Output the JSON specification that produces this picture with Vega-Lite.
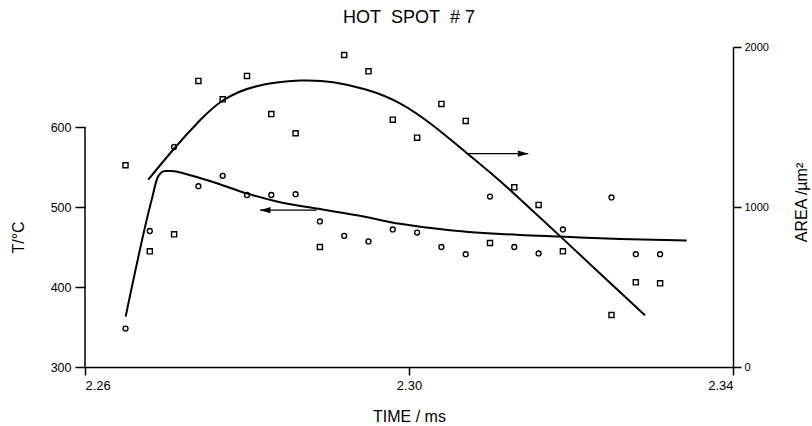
{
  "$schema": "https://vega.github.io/schema/vega-lite/v6.json",
  "width": 648,
  "height": 320,
  "autosize": {"type": "none"},
  "padding": {"left": 85, "top": 47, "right": 79, "bottom": 59},
  "background": "white",
  "title": {"text": "HOT\u00a0\u00a0SPOT\u00a0\u00a0#\u00a07", "fontSize": 18, "font": "Liberation Sans", "fontWeight": "normal", "color": "black", "baseline": "alphabetic", "offset": 0},
  "config": {
    "view": {"stroke": null},
    "axis": {"grid": false, "domainColor": "black", "tickColor": "black", "labelColor": "black", "titleColor": "black", "labelFont": "Liberation Sans", "titleFont": "Liberation Sans", "titleFontWeight": "normal", "domainWidth": 1.5, "tickWidth": 1.5}
  },
  "datasets": {
    "circles": [
      {"time": 2.265, "temp": 348}, {"time": 2.268, "temp": 470}, {"time": 2.271, "temp": 575},
      {"time": 2.274, "temp": 526}, {"time": 2.277, "temp": 539}, {"time": 2.280, "temp": 515},
      {"time": 2.283, "temp": 515}, {"time": 2.286, "temp": 516}, {"time": 2.289, "temp": 482},
      {"time": 2.292, "temp": 464}, {"time": 2.295, "temp": 457}, {"time": 2.298, "temp": 472},
      {"time": 2.301, "temp": 468}, {"time": 2.304, "temp": 450}, {"time": 2.307, "temp": 441},
      {"time": 2.310, "temp": 513}, {"time": 2.313, "temp": 450}, {"time": 2.316, "temp": 442},
      {"time": 2.319, "temp": 472}, {"time": 2.325, "temp": 512}, {"time": 2.328, "temp": 441},
      {"time": 2.331, "temp": 441}
    ],
    "squares": [
      {"time": 2.265, "area": 1261}, {"time": 2.268, "area": 723}, {"time": 2.271, "area": 829},
      {"time": 2.274, "area": 1788}, {"time": 2.277, "area": 1673}, {"time": 2.280, "area": 1819},
      {"time": 2.283, "area": 1581}, {"time": 2.286, "area": 1461}, {"time": 2.289, "area": 750},
      {"time": 2.292, "area": 1950}, {"time": 2.295, "area": 1848}, {"time": 2.298, "area": 1546},
      {"time": 2.301, "area": 1433}, {"time": 2.304, "area": 1644}, {"time": 2.307, "area": 1538},
      {"time": 2.310, "area": 775}, {"time": 2.313, "area": 1123}, {"time": 2.316, "area": 1013},
      {"time": 2.319, "area": 723}, {"time": 2.325, "area": 325}, {"time": 2.328, "area": 529},
      {"time": 2.331, "area": 523}
    ],
    "tcurve": [
      {"time": 2.26502, "temp": 363}, {"time": 2.26823, "temp": 509}, {"time": 2.26901, "temp": 538},
      {"time": 2.26988, "temp": 545}, {"time": 2.27070, "temp": 545}, {"time": 2.27256, "temp": 541},
      {"time": 2.27617, "temp": 530}, {"time": 2.27996, "temp": 517}, {"time": 2.28407, "temp": 506},
      {"time": 2.28861, "temp": 498}, {"time": 2.29395, "temp": 489}, {"time": 2.29889, "temp": 479},
      {"time": 2.30506, "temp": 471}, {"time": 2.31370, "temp": 465}, {"time": 2.31864, "temp": 463},
      {"time": 2.32605, "temp": 460}, {"time": 2.33428, "temp": 458}
    ],
    "acurve": [
      {"time": 2.26781, "area": 1171}, {"time": 2.27099, "area": 1364}, {"time": 2.27420, "area": 1542},
      {"time": 2.27707, "area": 1667}, {"time": 2.28120, "area": 1755}, {"time": 2.28654, "area": 1790},
      {"time": 2.29065, "area": 1780}, {"time": 2.29478, "area": 1733}, {"time": 2.29889, "area": 1648},
      {"time": 2.30300, "area": 1508}, {"time": 2.30712, "area": 1338}, {"time": 2.31123, "area": 1163},
      {"time": 2.31535, "area": 972}, {"time": 2.31864, "area": 818}, {"time": 2.32358, "area": 585},
      {"time": 2.32914, "area": 323}
    ],
    "tarrow": [{"time": 2.2886, "time2": 2.2816, "temp": 496}],
    "aarrow": [{"time": 2.30712, "time2": 2.31473, "area": 1333}],
    "taxis": [{"time": 2.26, "temp": 300, "temp2": 600}]
  },
  "layer": [
    {
      "layer": [
        {
          "data": {"name": "circles"},
          "mark": {"type": "point", "shape": "circle", "size": 24, "filled": false, "stroke": "black", "strokeWidth": 1.4, "opacity": 1},
          "encoding": {
            "x": {"field": "time", "type": "quantitative", "scale": {"domain": [2.26, 2.34], "nice": false, "zero": false},
                  "axis": {"values": [2.26, 2.30, 2.34], "format": ".2f", "title": "TIME / ms", "titleFontSize": 16, "labelFontSize": 13, "tickSize": 8, "labelPadding": 4, "titleBaseline": "middle", "titleY": 49}},
            "y": {"field": "temp", "type": "quantitative", "scale": {"domain": [300, 700], "nice": false, "zero": false},
                  "axis": {"values": [300, 400, 500, 600], "format": "d", "domain": false, "title": "T/°C", "titleFontSize": 16, "labelFontSize": 12.5, "tickSize": 10, "labelPadding": 4, "titleAngle": -90, "titleBaseline": "middle", "titleAlign": "center", "titleX": -67, "titleY": 190}}
          }
        },
        {
          "data": {"name": "tcurve"},
          "mark": {"type": "line", "interpolate": "monotone", "color": "black", "strokeWidth": 2},
          "encoding": {
            "x": {"field": "time", "type": "quantitative"},
            "y": {"field": "temp", "type": "quantitative"}
          }
        },
        {
          "data": {"name": "tarrow"},
          "mark": {"type": "rule", "color": "black", "strokeWidth": 1.3},
          "encoding": {
            "x": {"field": "time", "type": "quantitative"},
            "x2": {"field": "time2"},
            "y": {"field": "temp", "type": "quantitative"}
          }
        },
        {
          "data": {"name": "tarrow"},
          "mark": {"type": "point", "shape": "M0,0L2,-0.6L2,0.6Z", "size": 110, "filled": true, "color": "black", "opacity": 1},
          "encoding": {
            "x": {"field": "time2", "type": "quantitative"},
            "y": {"field": "temp", "type": "quantitative"}
          }
        },
        {
          "data": {"name": "taxis"},
          "mark": {"type": "rule", "color": "black", "strokeWidth": 1.5},
          "encoding": {
            "x": {"field": "time", "type": "quantitative"},
            "y": {"field": "temp", "type": "quantitative"},
            "y2": {"field": "temp2"}
          }
        }
      ]
    },
    {
      "layer": [
        {
          "data": {"name": "squares"},
          "mark": {"type": "point", "shape": "square", "size": 26, "filled": false, "stroke": "black", "strokeWidth": 1.4, "opacity": 1},
          "encoding": {
            "x": {"field": "time", "type": "quantitative"},
            "y": {"field": "area", "type": "quantitative", "scale": {"domain": [0, 2000], "nice": false},
                  "axis": {"orient": "right", "values": [0, 1000, 2000], "format": "d", "title": "AREA /µm²", "titleFontSize": 16, "labelFontSize": 11, "tickSize": 8, "labelPadding": 3, "titleAngle": -90, "titleBaseline": "middle", "titleAlign": "center", "titleX": 68, "titleY": 155}}
          }
        },
        {
          "data": {"name": "acurve"},
          "mark": {"type": "line", "interpolate": "natural", "color": "black", "strokeWidth": 2},
          "encoding": {
            "x": {"field": "time", "type": "quantitative"},
            "y": {"field": "area", "type": "quantitative"}
          }
        },
        {
          "data": {"name": "aarrow"},
          "mark": {"type": "rule", "color": "black", "strokeWidth": 1.3},
          "encoding": {
            "x": {"field": "time", "type": "quantitative"},
            "x2": {"field": "time2"},
            "y": {"field": "area", "type": "quantitative"}
          }
        },
        {
          "data": {"name": "aarrow"},
          "mark": {"type": "point", "shape": "M0,0L-2,-0.6L-2,0.6Z", "size": 110, "filled": true, "color": "black", "opacity": 1},
          "encoding": {
            "x": {"field": "time2", "type": "quantitative"},
            "y": {"field": "area", "type": "quantitative"}
          }
        }
      ]
    }
  ],
  "resolve": {"scale": {"y": "independent"}}
}
